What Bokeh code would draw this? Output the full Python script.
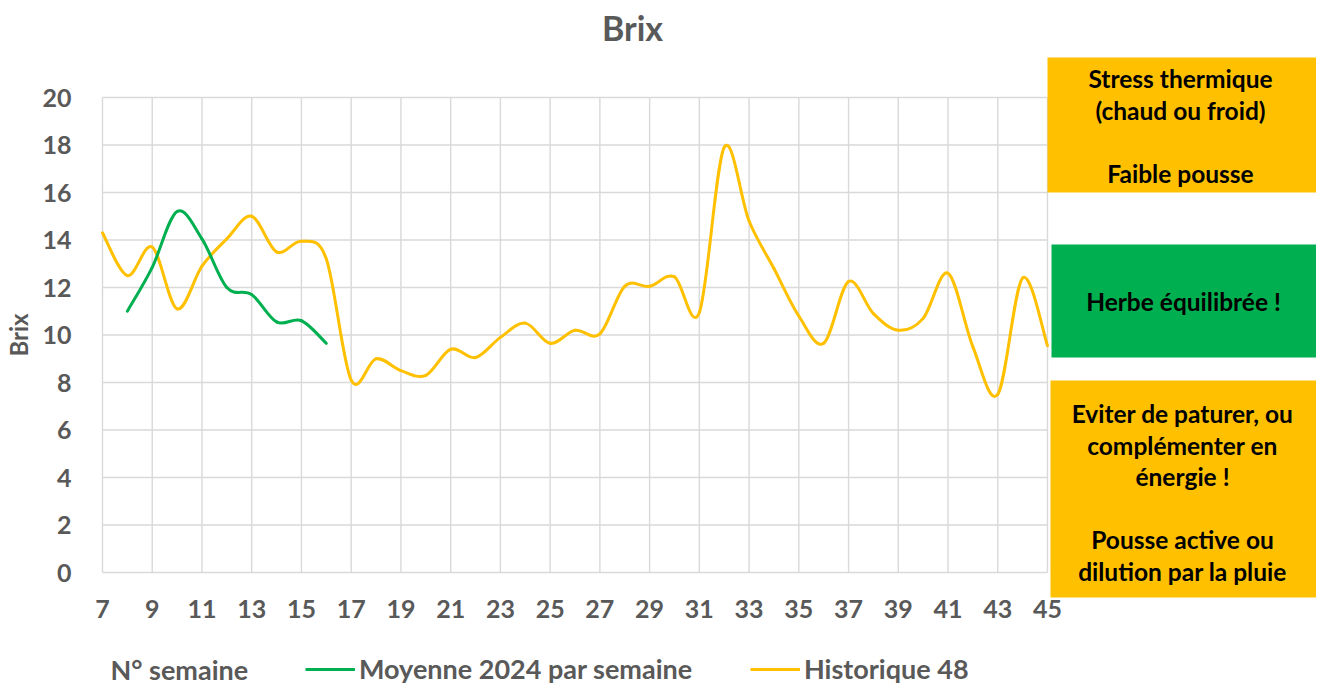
import math
from bokeh.plotting import figure
from bokeh.models import Range1d, FixedTicker, Label, Legend, LegendItem
from bokeh.core.properties import value
from bokeh.embed import file_html
from bokeh.resources import INLINE

# ---------------- data ----------------
weeks_hist = list(range(7, 46))
brix_hist = [14.3, 12.5, 13.7, 11.1, 12.9, 14.05, 15.0, 13.5, 13.95, 13.2,
             8.1, 9.0, 8.5, 8.3, 9.4, 9.05, 9.9, 10.5, 9.65, 10.2,
             10.05, 12.05, 12.05, 12.45, 10.95, 17.9, 14.8, 12.8, 10.8, 9.65,
             12.25, 10.9, 10.2, 10.7, 12.6, 9.5, 7.5, 12.4, 9.55]
weeks_2024 = list(range(8, 17))
brix_2024 = [11.0, 12.85, 15.2, 14.05, 12.0, 11.7, 10.55, 10.6, 9.65]
x_ticks = list(range(7, 46, 2))
y_ticks = list(range(0, 21, 2))
series_names = ["Moyenne 2024 par semaine", "Historique 48"]
box_texts = [
    ["Stress thermique", "(chaud ou froid)", "", "Faible pousse"],
    ["Herbe équilibrée !"],
    ["Eviter de paturer, ou", "complémenter en", "énergie !", "", "Pousse active ou", "dilution par la pluie"],
]

# ---------------- style / layout ----------------
FONT = "Lato"
GRAY = "#595959"
YELLOW = "#FFC000"
GREEN = "#00B050"
GRID = "#d9d9d9"

W, H = 1316, 688
PLOT_LEFT, PLOT_BOTTOM = 102, 572          # pixel position of (7, 0)
PX_PER_WEEK = 945 / 38.0
PX_PER_UNIT = 475 / 20.0
x_start = x_ticks[0] - PLOT_LEFT / PX_PER_WEEK
x_end = x_start + W / PX_PER_WEEK
y_start = y_ticks[0] - (H - PLOT_BOTTOM) / PX_PER_UNIT
y_end = y_start + H / PX_PER_UNIT

p = figure(width=W, height=H, output_backend="svg", toolbar_location=None,
           x_range=Range1d(x_start, x_end), y_range=Range1d(y_start, y_end),
           min_border_left=0, min_border_right=0, min_border_top=0, min_border_bottom=0,
           outline_line_color=None, background_fill_color="white",
           border_fill_color="white", title=None)
# pixel coordinate system (origin top-left) for annotation boxes
p.extra_x_ranges = {"px": Range1d(0, W)}
p.extra_y_ranges = {"py": Range1d(H, 0)}

p.xgrid.visible = False
p.ygrid.visible = False

# grid lines limited to the data area
n, m = len(x_ticks), len(y_ticks)
p.segment(x0=x_ticks, y0=[y_ticks[0]] * n, x1=x_ticks, y1=[y_ticks[-1]] * n,
          line_color=GRID, line_width=1.4)
p.segment(x0=[x_ticks[0]] * m, y0=y_ticks, x1=[x_ticks[-1]] * m, y1=y_ticks,
          line_color=GRID, line_width=1.4)

for ax, ticks, standoff, loc, bnds in ((p.xaxis[0], x_ticks, 21, y_ticks[0], (x_ticks[0], x_ticks[-1])),
                                       (p.yaxis[0], y_ticks, 25, x_ticks[0], (y_ticks[0], y_ticks[-1]))):
    ax.ticker = FixedTicker(ticks=ticks)
    ax.fixed_location = loc
    ax.bounds = bnds
    ax.axis_line_color = None
    ax.major_tick_line_color = None
    ax.minor_tick_line_color = None
    ax.major_label_text_font = FONT
    ax.major_label_text_font_size = "25px"
    ax.major_label_text_font_style = "bold"
    ax.major_label_text_color = GRAY
    ax.major_label_standoff = standoff

p.yaxis[0].axis_label = "Brix"
p.yaxis[0].axis_label_text_font = FONT
p.yaxis[0].axis_label_text_font_size = "24px"
p.yaxis[0].axis_label_text_font_style = "bold"
p.yaxis[0].axis_label_text_color = GRAY
p.yaxis[0].axis_label_standoff = 6


def smooth(xs, ys):
    n = len(xs)
    cols = {k: [] for k in ("x0", "y0", "x1", "y1", "cx0", "cy0", "cx1", "cy1")}
    for i in range(n - 1):
        a = max(i - 1, 0)
        d = min(i + 2, n - 1)
        cols["x0"].append(xs[i]); cols["y0"].append(ys[i])
        cols["x1"].append(xs[i + 1]); cols["y1"].append(ys[i + 1])
        cols["cx0"].append(xs[i] + (xs[i + 1] - xs[a]) / 6.0)
        cols["cy0"].append(ys[i] + (ys[i + 1] - ys[a]) / 6.0)
        cols["cx1"].append(xs[i + 1] - (xs[d] - xs[i]) / 6.0)
        cols["cy1"].append(ys[i + 1] - (ys[d] - ys[i]) / 6.0)
    return cols


p.bezier(line_color=YELLOW, line_width=3, line_cap="round", **smooth(weeks_hist, brix_hist))
p.bezier(line_color=GREEN, line_width=3, line_cap="round", **smooth(weeks_2024, brix_2024))

# boxes on the right (page pixel coordinates)
boxes = [
    dict(left=1047, right=1316, top=57, bottom=192, color=YELLOW, cx=1180, ys=[78, 109.5, 141, 172.5]),
    dict(left=1051, right=1316, top=244, bottom=357, color=GREEN, cx=1183, ys=[301]),
    dict(left=1050, right=1316, top=380, bottom=597, color=YELLOW, cx=1182,
         ys=[413, 444.5, 476, 507.5, 539, 570.5]),
]
for b, lines in zip(boxes, box_texts):
    p.quad(left=[b["left"]], right=[b["right"]], top=[b["top"]], bottom=[b["bottom"]],
           fill_color=b["color"], line_color=None, x_range_name="px", y_range_name="py")
    keep = [(y, t) for y, t in zip(b["ys"], lines) if t]
    p.text(x=[b["cx"]] * len(keep), y=[y for y, _ in keep], text=[t for _, t in keep],
           x_range_name="px", y_range_name="py", text_align="center", text_baseline="middle",
           text_font=value(FONT), text_font_size="24.5px", text_font_style="bold", text_color="black")

# title & x axis title (screen units: from bottom-left of the canvas)
p.add_layout(Label(x=632, y=H - 27, x_units="screen", y_units="screen", text="Brix",
                   text_align="center", text_baseline="middle", text_font=FONT,
                   text_font_size="34px", text_font_style="bold", text_color=GRAY))
p.add_layout(Label(x=110, y=H - 669, x_units="screen", y_units="screen", text="N° semaine",
                   text_align="left", text_baseline="middle", text_font=FONT,
                   text_font_size="27px", text_font_style="bold", text_color=GRAY))

# legends (proxy renderers hold no visible point)
nan = float("nan")
r_g = p.line(x=[nan], y=[nan], line_color=GREEN, line_width=3)
r_y = p.line(x=[nan], y=[nan], line_color=YELLOW, line_width=3)
for r, name, lx in ((r_g, series_names[0], 305), (r_y, series_names[1], 750)):
    lg = Legend(items=[LegendItem(label=value(name), renderers=[r])], location=(lx, 3),
                orientation="horizontal", glyph_width=50, glyph_height=20, label_standoff=4,
                padding=0, margin=0, border_line_color=None, background_fill_alpha=0,
                label_text_font=FONT, label_text_font_size="27px", label_text_font_style="bold",
                label_text_color=GRAY)
    p.add_layout(lg)

open("out.html", "w").write(file_html(p, INLINE))
